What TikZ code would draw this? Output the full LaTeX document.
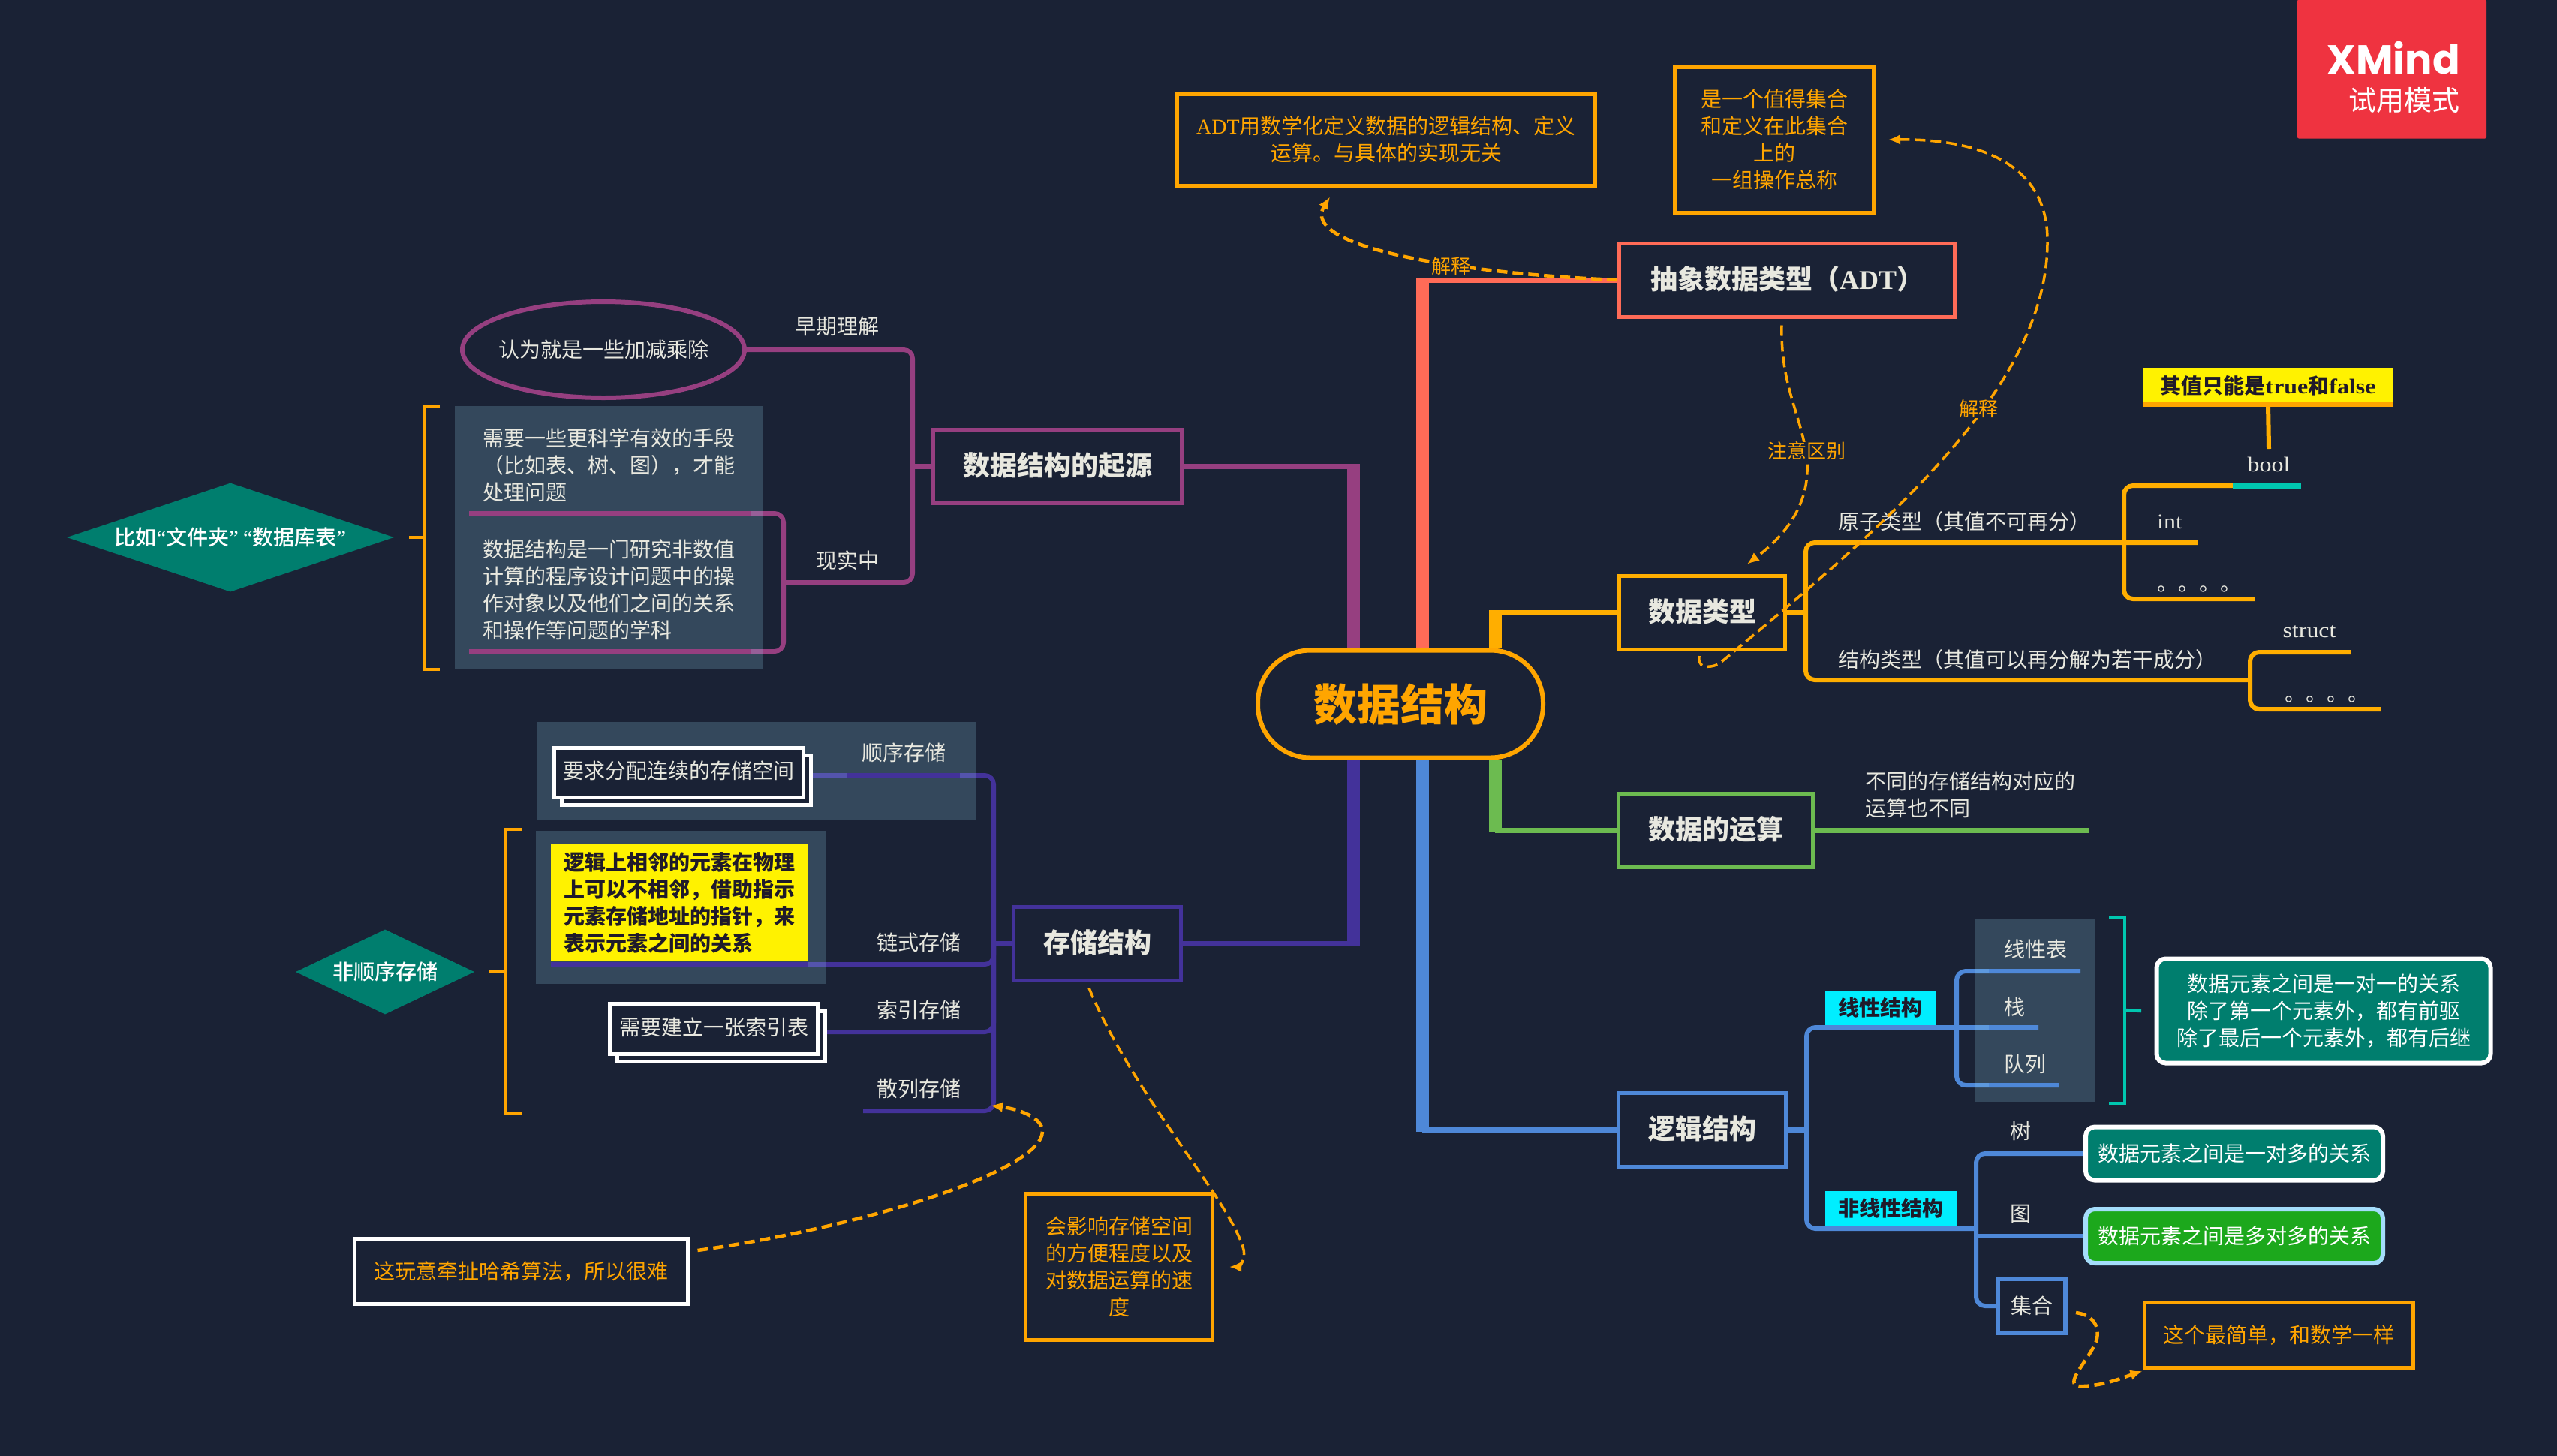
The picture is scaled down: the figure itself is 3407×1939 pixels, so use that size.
\documentclass[tikz,border=0pt]{standalone}
\usepackage{fontspec}
\usepackage{xcolor}
\usetikzlibrary{shapes, arrows.meta, positioning, backgrounds, shadows}

\setmainfont{Liberation Serif}
\newfontfamily\cjk{Noto Sans CJK SC}
\newfontfamily\cjkmid{Noto Sans CJK SC Medium}
\newfontfamily\wordfont[FakeStretch=1.14]{Liberation Serif}
\newfontfamily\logofont{Poppins}
\newcommand{\lat}[1]{{\rmfamily #1}}
\newcommand{\word}[1]{{\wordfont #1}}
\newcommand{\leaffont}{\cjk\fontsize{28}{36}\selectfont}
\newcommand{\tagfont}{\cjk\bfseries\fontsize{28}{36}\selectfont}
\newcommand{\topicfont}{\cjk\bfseries\fontsize{36}{44}\selectfont}

\definecolor{bgblue}{HTML}{1A2235}
\definecolor{paper}{HTML}{E8E8DF}
\definecolor{noteorange}{HTML}{FFA500}
\definecolor{typeorange}{HTML}{FFAE00}
\definecolor{adtred}{HTML}{FF6B57}
\definecolor{originpurple}{HTML}{963F80}
\definecolor{storeviolet}{HTML}{43329A}
\definecolor{calcgreen}{HTML}{6CBB50}
\definecolor{logicblue}{HTML}{4E88D8}
\definecolor{panelveil}{RGB}{156,224,248}
\definecolor{tealfill}{HTML}{007E6E}
\definecolor{tealline}{HTML}{00C7B0}
\definecolor{tagcyan}{HTML}{00EEFF}
\definecolor{tagink}{HTML}{1F1A2A}
\definecolor{logored}{HTML}{EF3340}
\definecolor{greenfill}{HTML}{1CA81C}
\definecolor{skyline}{HTML}{A4DDFB}

\begin{document}
\begin{tikzpicture}[x=1pt, y=-1pt,
    every node/.style={align=center, inner sep=0pt, font=\leaffont, text=paper},
    topic/.style={draw, line width=5pt, font=\topicfont, minimum height=98pt, text height=28pt, text depth=4pt},
    note/.style={draw=noteorange, line width=5pt, text=noteorange},
    whitebox/.style={draw=white, line width=5pt, fill=bgblue, copy shadow={shadow xshift=10pt, shadow yshift=-10pt}},
    tealbox/.style={draw=white, line width=6pt, fill=tealfill, rounded corners=12pt, text=white},
    tag/.style={fill=tagcyan, text=tagink, font=\tagfont},
    flag/.style={diamond, fill=tealfill, shape aspect=3, text=white, font=\cjkmid\fontsize{28}{36}\selectfont},
    trunk/.style={line width=17pt},
    twig/.style={line width=7pt},
    fork/.style={line width=6pt, rounded corners=12pt},
    panel/.style={fill=panelveil, fill opacity=0.2},
    bracket/.style={line width=4.5pt},
    dashlink/.style={draw=noteorange, line width=3.5pt, dash pattern=on 14pt off 7pt, -{Latex[length=16pt, width=14pt]}},
    dashlabel/.style={fill=bgblue, text=noteorange, font=\cjk\fontsize{26}{30}\selectfont}
    ]

    \useasboundingbox (0,0) rectangle (3407,1939);

    % centre and topics
    \node (root) [draw=noteorange, line width=6pt, fill=bgblue, rounded corners=70pt, minimum width=380pt, minimum height=143pt,
        text=noteorange, font=\cjk\bfseries\fontsize{58}{60}\selectfont] at (1866,938) {\raisebox{2pt}{数据结构}};
    \node (adt) [topic, draw=adtred, minimum width=447pt] at (2381,373) {抽象数据类型（\lat{ADT}）};
    \node (type) [topic, draw=typeorange, minimum width=221pt] at (2268,816) {数据类型};
    \node (calc) [topic, draw=calcgreen, minimum width=259pt] at (2286,1106) {数据的运算};
    \node (logic) [topic, draw=logicblue, minimum width=223pt] at (2268,1505) {逻辑结构};
    \node (origin) [topic, draw=originpurple, minimum width=331pt] at (1409,621) {数据结构的起源};
    \node (store) [topic, draw=storeviolet, minimum width=223pt] at (1462,1257) {存储结构};

    % notes on the top
    \node (adtnote) [note, minimum width=557pt, minimum height=122pt] at (1847,186) {\lat{ADT}用数学化定义数据的逻辑结构、定义\\运算。与具体的实现无关};
    \node (setnote) [note, minimum width=265pt, minimum height=194pt] at (2364,186) {是一个值得集合\\和定义在此集合\\上的\\一组操作总称};
    \node (logo) [fill=logored, rounded corners=2pt, minimum width=252pt, minimum height=185pt] at (3187,92) {};
    \node (logoname) [anchor=base east, text=white, font=\logofont\bfseries\fontsize{54}{60}\selectfont] at (3278,98) {XMind};
    \node (logomode) [anchor=east, text=white, font=\cjk\fontsize{37}{40}\selectfont] at (3278,134) {试用模式};

    % data types
    \node (atomtext) [anchor=west] at (2449,695) {原子类型（其值不可再分）};
    \node (structtext) [anchor=west] at (2449,879) {结构类型（其值可以再分解为若干成分）};
    \node (booltext) at (3023,619) {\word{bool}};
    \node (inttext) [anchor=west] at (2874,695) {\word{int}};
    \node (atomdots) [anchor=base west] at (2874,787) {。。。。};
    \node (structword) at (3077,842) {\word{struct}};
    \node (structdots) [anchor=base west] at (3044,934) {。。。。};
    \node (boolnote) [fill=yellow, text=tagink, font=\tagfont, minimum width=333pt, minimum height=49pt] at (3022,514) {其值只能是\word{true}和\word{false}};
    \node (calctext) [anchor=west, align=left] at (2485,1059) {不同的存储结构对应的\\运算也不同};

    % logic structure
    \node (lineartag) [tag, minimum width=147pt, minimum height=46pt] at (2505,1343) {线性结构};
    \node (nonlineartag) [tag, minimum width=175pt, minimum height=47pt] at (2519,1610) {非线性结构};
    \node (listtext) [anchor=west] at (2670,1265) {线性表};
    \node (stacktext) [anchor=west] at (2670,1342) {栈};
    \node (queuetext) [anchor=west] at (2670,1418) {队列};
    \node (lineartip) [tealbox, minimum width=445pt, minimum height=139pt] at (3096,1347) {数据元素之间是一对一的关系\\除了第一个元素外，都有前驱\\除了最后一个元素外，都有后继};
    \node (treetext) at (2692,1507) {树};
    \node (graphtext) at (2692,1617) {图};
    \node (treebox) [tealbox, minimum width=396pt, minimum height=71pt] at (2977,1537) {数据元素之间是一对多的关系};
    \node (graphbox) [tealbox, draw=skyline, fill=greenfill, minimum width=396pt, minimum height=72pt] at (2977,1647) {数据元素之间是多对多的关系};
    \node (setbox) [draw=logicblue, line width=6pt, minimum width=90pt, minimum height=72pt] at (2707,1740) {集合};
    \node (setnotetwo) [note, minimum width=358pt, minimum height=87pt] at (3036,1779) {这个最简单，和数学一样};

    % origin
    \node (early) [ellipse, draw=originpurple, line width=6pt, inner xsep=-20pt, minimum width=376pt, minimum height=128pt] at (804,466) {认为就是一些加减乘除};
    \node (earlytext) at (1115,435) {早期理解};
    \node (realtext) at (1129,747) {现实中};
    \node (needtext) [anchor=west, align=left] at (643,620) {需要一些更科学有效的手段\\（比如表、树、图），才能\\处理问题};
    \node (deftext) [anchor=west, align=left] at (643,786) {数据结构是一门研究非数值\\计算的程序设计问题中的操\\作对象以及他们之间的关系\\和操作等问题的学科};
    \node (folderflag) [flag, minimum width=436pt, minimum height=145pt] at (307,716) {比如\lat{“}文件夹\lat{”} \lat{“}数据库表\lat{”}};

    % storage
    \node (seqbox) [whitebox, minimum width=332pt, minimum height=66pt] at (904,1029) {\raisebox{7pt}{要求分配连续的存储空间}};
    \node (seqtext) at (1204,1003) {顺序存储};
    \node (chainnote) [fill=yellow, text=tagink, font=\tagfont, align=left, minimum width=343pt, minimum height=156pt] at (905,1203) {逻辑上相邻的元素在物理\\上可以不相邻，借助指示\\元素存储地址的指针，来\\表示元素之间的关系};
    \node (chaintext) at (1224,1256) {链式存储};
    \node (indexbox) [whitebox, minimum width=277pt, minimum height=67pt] at (951,1371) {\raisebox{6pt}{需要建立一张索引表}};
    \node (indextext) at (1224,1346) {索引存储};
    \node (hashtext) at (1224,1451) {散列存储};
    \node (hashnote) [note, draw=white, minimum width=444pt, minimum height=87pt] at (694,1694) {这玩意牵扯哈希算法，所以很难};
    \node (storenote) [note, minimum width=249pt, minimum height=195pt] at (1491,1688) {会影响存储空间\\的方便程度以及\\对数据运算的速\\度};
    \node (sparseflag) [flag, minimum width=238pt, minimum height=113pt] at (513,1295) {非顺序存储};

    % free ends and spines
    \coordinate (adtelbow) at (1895,370);
    \coordinate (typeelbow) at (1992,813);
    \coordinate (calcelbow) at (1992,1109);
    \coordinate (logicelbow) at (1895,1508);
    \coordinate (originelbow) at (1803,618);
    \coordinate (storeelbow) at (1803,1260);
    \coordinate (calcend) at (2784,1106);
    \coordinate (originspine) at (1216,621);
    \coordinate (realend) at (1044,776);
    \coordinate (needstart) at (625,684);
    \coordinate (defstart) at (625,868);
    \coordinate (typespine) at (2406,816);
    \coordinate (atomend) at (2928,723);
    \coordinate (atomspine) at (2830,723);
    \coordinate (boolmid) at (2975,647);
    \coordinate (boolend) at (3066,647);
    \coordinate (dotsend) at (3004,798);
    \coordinate (structturn) at (2998,906);
    \coordinate (wordend) at (3132,869);
    \coordinate (moreend) at (3172,945);
    \coordinate (logicspine) at (2407,1505);
    \coordinate (linearend) at (2716,1369);
    \coordinate (nonlinearend) at (2633,1637);
    \coordinate (linearspine) at (2607,1369);
    \coordinate (listend) at (2772,1294);
    \coordinate (queueend) at (2743,1446);
    \coordinate (storespine) at (1324,1257);
    \coordinate (seqend) at (1079,1033);
    \coordinate (chainstart) at (734,1285);
    \coordinate (indexend) at (1099,1375);
    \coordinate (hashend) at (1150,1480);

    \begin{scope}[on background layer]
        \fill [bgblue] (-5,-5) rectangle (3412,1944);

        \draw [trunk, adtred] (adtelbow) -- (adtelbow |- root.north);
        \draw [twig, adtred] (adt.west) -- (adt.west -| adtelbow);
        \draw [trunk, typeorange] (typeelbow) -- (typeelbow |- root.north);
        \draw [twig, typeorange] (type.west) -- (type.west -| typeelbow);
        \draw [trunk, calcgreen] (calcelbow) -- (calcelbow |- root.south);
        \draw [twig, calcgreen] (calc.west) -- (calc.west -| calcelbow);
        \draw [twig, calcgreen] (calc.east) -- (calcend);
        \draw [trunk, logicblue] (logicelbow) -- (logicelbow |- root.south);
        \draw [twig, logicblue] (logic.west) -- (logic.west -| logicelbow);
        \draw [trunk, originpurple] (originelbow) -- (originelbow |- root.north);
        \draw [twig, originpurple] (origin.east) -- (origin.east -| originelbow);
        \draw [trunk, storeviolet] (storeelbow) -- (storeelbow |- root.south);
        \draw [twig, storeviolet] (store.east) -- (store.east -| storeelbow);

        \draw [twig, originpurple] (origin.west) -- (originspine);
        \draw [fork, originpurple] (early.east) -| (originspine |- realend) -- (realend);
        \draw [fork, originpurple] (needstart) -| (realend |- defstart) -- (defstart);

        \draw [twig, typeorange] (type.east) -- (typespine);
        \draw [fork, typeorange] (atomend) -| (typespine |- structturn) -- (structturn);
        \draw [fork, typeorange] (boolmid) -| (atomspine |- dotsend) -- (dotsend);
        \draw [fork, typeorange] (wordend) -| (structturn |- moreend) -- (moreend);

        \draw [twig, logicblue] (logic.east) -- (logicspine);
        \draw [fork, logicblue] (linearend) -| (logicspine |- nonlinearend) -- (nonlinearend);
        \draw [fork, logicblue] (listend) -| (linearspine |- queueend) -- (queueend);
        \draw [fork, logicblue] (treebox.west) -| (nonlinearend |- setbox.west) -- (setbox.west);
        \draw [fork, logicblue] (graphbox.west) -- (graphbox.west -| nonlinearend);

        \draw [twig, storeviolet] (store.west) -- (storespine);
        \draw [fork, storeviolet] (seqend) -| (storespine |- hashend) -- (hashend);
        \draw [fork, storeviolet] (chainstart) -| (storespine);
        \draw [fork, storeviolet] (indexend) -| (storespine);

        \fill [panel] (606,541) rectangle (1017,891);
        \fill [panel] (2632,1224) rectangle (2791,1468);
        \fill [panel] (716,962) rectangle (1300,1093);
        \fill [panel] (714,1107) rectangle (1101,1311);
    \end{scope}

    % label underlines stay above the panels
    \draw [twig, originpurple] (needstart) -- ++(375,0);
    \draw [twig, originpurple] (defstart) -- ++(375,0);
    \draw [fork, typeorange, rounded corners=0pt] (boolnote.south) -- (booltext.north |- 0,598);
    \draw [twig, noteorange] (boolnote.south west) -- (boolnote.south east);
    \draw [twig, tealline] (boolmid) -- (boolend);
    \draw [fork, logicblue] (listend) -- ++(-122,0);
    \draw [fork, logicblue] (linearend) -- ++(-66,0);
    \draw [fork, logicblue] (queueend) -- ++(-93,0);
    \draw [fork, storeviolet] (seqend) ++(49,0) -- ++(151,0);
    \draw [twig, storeviolet] (chainstart) -- ++(343,0);

    % brackets
    \coordinate (folderup) at (586,541);
    \coordinate (folderlow) at (586,892);
    \coordinate (folderbar) at (566,716);
    \draw [bracket, noteorange] (folderup) -| (folderbar |- folderlow) -- (folderlow);
    \draw [bracket, noteorange] (545,716) -- (folderbar);
    \coordinate (sparseup) at (695,1105);
    \coordinate (sparselow) at (695,1484);
    \coordinate (sparsebar) at (673,1295);
    \draw [bracket, noteorange] (sparseup) -| (sparsebar |- sparselow) -- (sparselow);
    \draw [bracket, noteorange] (652,1295) -- (sparsebar);
    \coordinate (tealup) at (2810,1222);
    \coordinate (teallow) at (2810,1470);
    \coordinate (tealbar) at (2831,1346);
    \draw [bracket, tealline] (tealup) -| (tealbar |- teallow) -- (teallow);
    \draw [bracket, tealline] (tealbar) -- (lineartip.west -| 2853,0);

    % dashed relations
    \draw [dashlink, line width=4.5pt] (adt.west) .. controls (1950,365) and (1730,330) .. ([xshift=-75pt, yshift=-13pt]adtnote.south);
    \draw [dashlink] (2264,874) .. controls (2262,888) and (2272,892) .. (2290,885) .. controls (2500,710) and (2730,520) .. (2728,320) .. controls (2728,220) and (2640,185) .. ([xshift=17pt]setnote.east);
    \draw [dashlink] ([xshift=-7pt, yshift=-9pt]adt.south) .. controls (2372,520) and (2405,560) .. (2408,620) .. controls (2410,680) and (2370,720) .. ([xshift=60pt, yshift=13pt]type.north);
    \draw [dashlink] ([xshift=-11pt, yshift=-8pt]store.south) .. controls (1510,1460) and (1640,1600) .. (1657,1665) .. controls (1660,1680) and (1650,1688) .. ([xshift=20pt]storenote.east);
    \draw [dashlink, line width=4.5pt] ([xshift=11pt, yshift=-18pt]hashnote.north east) .. controls (1150,1635) and (1389,1560) .. (1389,1507) .. controls (1389,1490) and (1360,1478) .. (1320,1473);
    \draw [dashlink, line width=4.5pt] ([xshift=11pt, yshift=-9pt]setbox.east) .. controls (2790,1752) and (2800,1770) .. (2792,1790) .. controls (2780,1815) and (2750,1845) .. (2770,1847) .. controls (2800,1848) and (2830,1835) .. ([yshift=-2pt]setnotetwo.south west);

    \node (explainone) [dashlabel] at (1933,355) {解释};
    \node (explaintwo) [dashlabel] at (2636,545) {解释};
    \node (notice) [dashlabel] at (2407,601) {注意区别};

\end{tikzpicture}
\end{document}
